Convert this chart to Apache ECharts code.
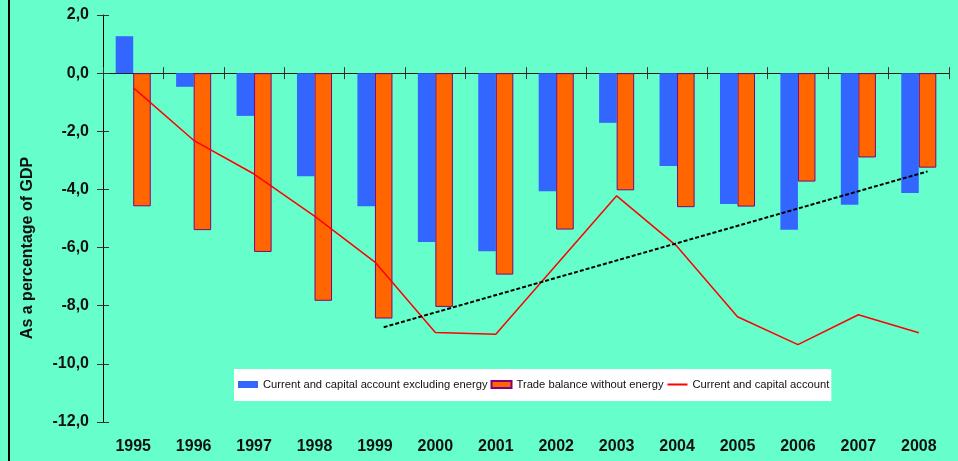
<!DOCTYPE html>
<html>
<head>
<meta charset="utf-8">
<title>Current account and trade balance</title>
<script src="https://cdn.jsdelivr.net/npm/echarts@6/dist/echarts.min.js"></script>
<style>
  html, body { margin: 0; padding: 0; background: #66FFCC; }
  #chart { width: 958px; height: 461px; }
</style>
</head>
<body>
<div id="chart"></div>
<script>
// Years on the category axis
const years = ['1995', '1996', '1997', '1998', '1999', '2000', '2001',
               '2002', '2003', '2004', '2005', '2006', '2007', '2008'];

// Current and capital account excluding energy (% of GDP)
const accountExEnergy = [1.27, -0.47, -1.47, -3.55, -4.58, -5.81, -6.13,
                         -4.06, -1.71, -3.19, -4.50, -5.39, -4.53, -4.12];

// Trade balance without energy (% of GDP)
const tradeExEnergy = [-4.58, -5.40, -6.15, -7.83, -8.44, -8.04, -6.93,
                       -5.38, -4.03, -4.61, -4.59, -3.73, -2.90, -3.25];

// Current and capital account (% of GDP)
const accountTotal = [-0.50, -2.31, -3.47, -4.92, -6.50, -8.92, -8.98,
                      -6.60, -4.22, -5.96, -8.38, -9.34, -8.31, -8.93];

// Trend line drawn over the trade balance bars
const trendYears = ['1999', '2008'];
const trendValues = [-8.74, -3.38];

// Value axis ticks
const yTicks = { min: -12, max: 2, interval: 2 };

const FONT = 'Arial, "Liberation Sans", sans-serif';
const barWidthPct = 29;

const chart = echarts.init(document.getElementById('chart'), null, { renderer: 'canvas' });

const tickStyle = { color: '#333', width: 1 };

const option = {
  animation: false,
  backgroundColor: '#66FFCC',
  textStyle: { fontFamily: FONT },
  grid: { left: 103, right: 9, top: 15, bottom: 39, containLabel: false },
  legend: {
    left: 234,
    top: 369,
    backgroundColor: '#ffffff',
    padding: [10, 2, 11, 4],
    itemWidth: 20,
    itemHeight: 7,
    itemGap: 3,
    selectedMode: false,
    textStyle: { fontSize: 11.2, color: '#111', fontFamily: FONT },
    data: [
      { name: 'Current and capital account excluding energy', icon: 'rect' },
      { name: 'Trade balance without energy', icon: 'rect' },
      { name: 'Current and capital account', itemStyle: { opacity: 0 } }
    ]
  },
  graphic: [
    {
      type: 'line',
      shape: { x1: 9, y1: 0, x2: 9, y2: 461 },
      style: { stroke: '#000', lineWidth: 2 },
      silent: true
    },
    {
      type: 'text',
      x: 28,
      y: 248,
      rotation: Math.PI / 2,
      style: {
        text: 'As a percentage of GDP',
        font: 'bold 16px ' + FONT,
        fill: '#111',
        align: 'center',
        verticalAlign: 'middle'
      },
      silent: true
    }
  ],
  xAxis: [
    {
      // year labels along the bottom edge
      type: 'category',
      data: years,
      position: 'bottom',
      axisLine: { show: false, onZero: false },
      axisTick: { show: false },
      axisLabel: { fontSize: 16, fontWeight: 'bold', color: '#111', margin: 17, fontFamily: FONT },
      splitLine: { show: false }
    },
    {
      // zero line with outward ticks
      type: 'category',
      data: years,
      position: 'bottom',
      axisLine: { show: true, onZero: true, onZeroAxisIndex: 0, lineStyle: { color: '#1a1a1a', width: 1 } },
      axisTick: { show: true, length: 6, lineStyle: tickStyle },
      axisLabel: { show: false },
      splitLine: { show: false }
    },
    {
      // inward half of the crossing ticks on the zero line
      type: 'category',
      data: years,
      position: 'bottom',
      axisLine: { show: false, onZero: true, onZeroAxisIndex: 0 },
      axisTick: { show: true, inside: true, length: 6, lineStyle: tickStyle },
      axisLabel: { show: false },
      splitLine: { show: false }
    }
  ],
  yAxis: [
    {
      type: 'value',
      min: yTicks.min,
      max: yTicks.max,
      interval: yTicks.interval,
      axisLine: { show: true, lineStyle: { color: '#000', width: 1 } },
      axisTick: { show: true, length: 6, lineStyle: tickStyle },
      axisLabel: {
        fontSize: 16,
        fontWeight: 'bold',
        color: '#111',
        margin: 14,
        fontFamily: FONT,
        formatter: v => v.toFixed(1).replace('.', ',')
      },
      splitLine: { show: false }
    },
    {
      type: 'value',
      position: 'left',
      min: yTicks.min,
      max: yTicks.max,
      interval: yTicks.interval,
      axisLine: { show: false },
      axisTick: { show: true, inside: true, length: 6, lineStyle: tickStyle },
      axisLabel: { show: false },
      splitLine: { show: false }
    }
  ],
  series: [
    {
      name: 'Current and capital account excluding energy',
      type: 'bar',
      xAxisIndex: 0,
      yAxisIndex: 0,
      data: accountExEnergy,
      barWidth: barWidthPct + '%',
      barGap: '0%',
      itemStyle: { color: '#3366FF' },
      z: 2
    },
    {
      name: 'Trade balance without energy',
      type: 'bar',
      xAxisIndex: 0,
      yAxisIndex: 0,
      data: tradeExEnergy,
      barWidth: barWidthPct + '%',
      barGap: '0%',
      itemStyle: { color: '#FF6600', borderColor: '#800080', borderWidth: 1 },
      z: 2
    },
    {
      name: 'Current and capital account',
      type: 'line',
      xAxisIndex: 0,
      yAxisIndex: 0,
      data: accountTotal,
      symbol: 'none',
      lineStyle: { color: '#FF0000', width: 1.5 },
      itemStyle: { color: '#FF0000' },
      z: 4
    },
    {
      // dashed trend, aligned to the centres of the trade balance bars
      name: 'trend',
      type: 'custom',
      xAxisIndex: 0,
      yAxisIndex: 0,
      silent: true,
      z: 5,
      encode: { x: [0, 2], y: [1, 3] },
      data: [[years.indexOf(trendYears[0]), trendValues[0],
              years.indexOf(trendYears[1]), trendValues[1]]],
      renderItem: function (params, api) {
        const band = api.size([1, 0])[0];
        const shift = band * barWidthPct / 200;
        const p1 = api.coord([api.value(0), api.value(1)]);
        const p2 = api.coord([api.value(2), api.value(3)]);
        return {
          type: 'line',
          shape: { x1: p1[0] + shift, y1: p1[1], x2: p2[0] + shift, y2: p2[1] },
          style: { stroke: '#000', lineWidth: 2, lineDash: [4, 2] }
        };
      }
    }
  ]
};

chart.setOption(option);
</script>
</body>
</html>
